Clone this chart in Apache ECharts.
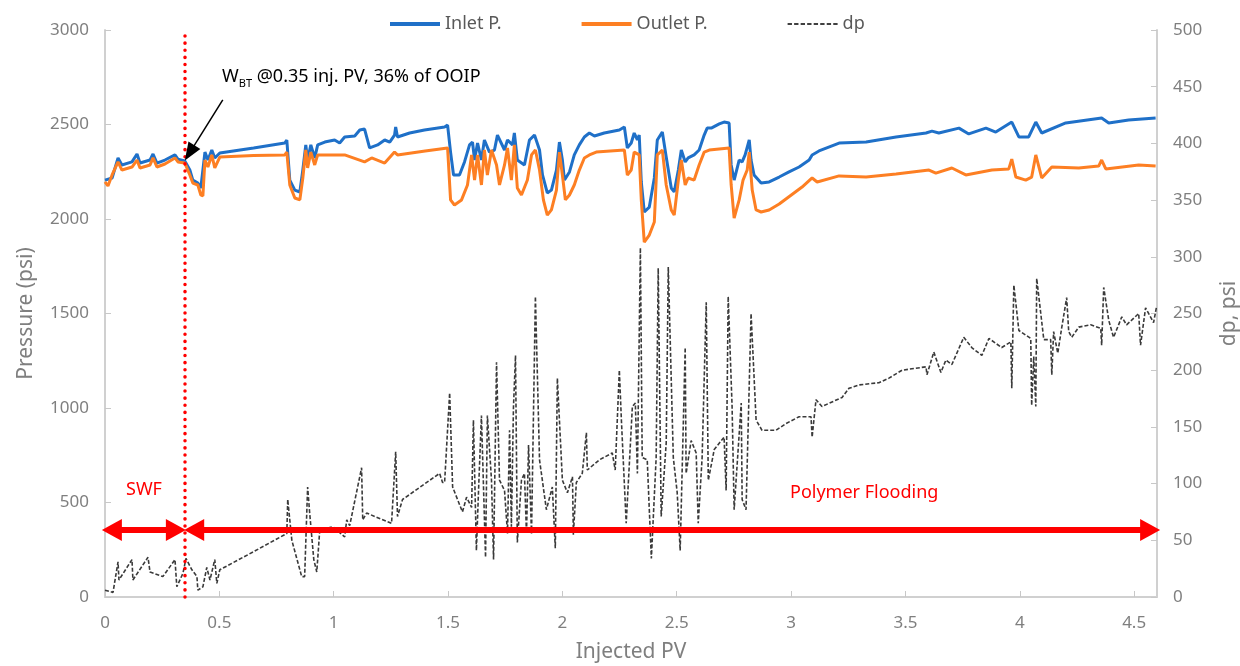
<!DOCTYPE html>
<html>
<head>
<meta charset="utf-8">
<title>Pressure vs Injected PV</title>
<script src="https://cdn.jsdelivr.net/npm/echarts@6/dist/echarts.min.js"></script>
<style>
  html, body { margin: 0; padding: 0; background: #fff; }
  #main { width: 1240px; height: 666px; }
</style>
</head>
<body>
<div id="main"></div>
<script type="text/javascript">
// values: [injected PV, psi]
var inletData = [
  [0,2206],[0.031,2217],[0.057,2323],[0.074,2286],[0.118,2302],[0.14,2344],[0.153,2296],[0.197,2312],
  [0.21,2344],[0.227,2296],[0.262,2312],[0.306,2339],[0.319,2317],[0.349,2307],[0.371,2259],[0.384,2206],
  [0.406,2190],[0.419,2164],[0.437,2354],[0.45,2312],[0.467,2365],[0.48,2323],[0.502,2349],[0.65,2376],
  [0.786,2402],[0.795,2418],[0.808,2206],[0.83,2153],[0.852,2143],[0.865,2259],[0.878,2392],[0.886,2312],
  [0.9,2392],[0.917,2323],[0.93,2392],[0.961,2407],[1.004,2418],[1.026,2402],[1.048,2434],[1.092,2439],
  [1.114,2471],[1.135,2476],[1.157,2376],[1.192,2392],[1.223,2418],[1.245,2407],[1.266,2444],[1.271,2487],
  [1.279,2434],[1.332,2455],[1.397,2471],[1.485,2487],[1.498,2497],[1.511,2354],[1.524,2233],[1.55,2233],
  [1.572,2302],[1.594,2392],[1.607,2407],[1.616,2312],[1.629,2402],[1.646,2312],[1.659,2418],[1.681,2354],
  [1.703,2365],[1.716,2444],[1.747,2365],[1.76,2418],[1.782,2392],[1.79,2455],[1.803,2312],[1.834,2286],
  [1.856,2418],[1.878,2444],[1.9,2365],[1.913,2233],[1.934,2138],[1.952,2153],[1.974,2259],[1.987,2407],
  [2.0,2312],[2.009,2206],[2.031,2249],[2.052,2339],[2.074,2392],[2.096,2434],[2.118,2455],[2.14,2439],
  [2.183,2455],[2.249,2471],[2.271,2487],[2.284,2376],[2.301,2402],[2.314,2455],[2.328,2418],[2.336,2444],
  [2.345,2196],[2.358,2037],[2.38,2063],[2.402,2217],[2.415,2418],[2.437,2460],[2.454,2328],[2.476,2164],
  [2.489,2143],[2.507,2259],[2.52,2365],[2.537,2302],[2.55,2323],[2.576,2339],[2.598,2365],[2.62,2444],
  [2.633,2481],[2.651,2481],[2.686,2503],[2.707,2513],[2.729,2508],[2.738,2286],[2.751,2206],[2.773,2312],
  [2.786,2302],[2.799,2339],[2.817,2418],[2.825,2312],[2.838,2233],[2.869,2190],[2.904,2196],[2.948,2222],
  [2.991,2249],[3.035,2275],[3.079,2312],[3.092,2339],[3.122,2360],[3.21,2402],[3.328,2407],[3.459,2434],
  [3.59,2455],[3.616,2465],[3.646,2455],[3.734,2481],[3.777,2450],[3.852,2481],[3.895,2460],[3.965,2513],
  [3.996,2434],[4.039,2434],[4.07,2513],[4.096,2455],[4.201,2508],[4.358,2534],[4.389,2508],[4.476,2524],
  [4.594,2534]
];

var outletData = [
  [0,2196],[0.013,2175],[0.031,2233],[0.057,2302],[0.074,2259],[0.118,2275],[0.14,2312],[0.153,2270],
  [0.197,2286],[0.21,2323],[0.227,2275],[0.262,2291],[0.306,2323],[0.319,2302],[0.349,2296],[0.371,2233],
  [0.384,2190],[0.406,2180],[0.419,2127],[0.428,2122],[0.437,2312],[0.45,2275],[0.467,2339],[0.48,2270],
  [0.502,2328],[0.65,2336],[0.786,2339],[0.795,2354],[0.808,2180],[0.83,2111],[0.852,2101],[0.865,2217],
  [0.878,2365],[0.886,2270],[0.9,2354],[0.917,2286],[0.93,2339],[0.961,2339],[1.048,2339],[1.135,2302],
  [1.166,2323],[1.223,2296],[1.266,2354],[1.279,2339],[1.4,2360],[1.498,2376],[1.511,2101],[1.528,2074],
  [1.559,2101],[1.585,2180],[1.603,2339],[1.616,2206],[1.629,2339],[1.646,2180],[1.659,2365],[1.672,2233],
  [1.69,2365],[1.712,2286],[1.725,2180],[1.747,2286],[1.76,2376],[1.777,2206],[1.79,2392],[1.803,2164],
  [1.821,2127],[1.847,2206],[1.865,2339],[1.882,2365],[1.9,2259],[1.917,2101],[1.934,2021],[1.952,2048],
  [1.974,2153],[1.987,2354],[2.0,2233],[2.013,2101],[2.031,2127],[2.052,2180],[2.074,2259],[2.096,2323],
  [2.118,2339],[2.148,2354],[2.271,2365],[2.284,2233],[2.301,2259],[2.314,2354],[2.336,2339],[2.345,2101],
  [2.358,1878],[2.38,1915],[2.402,1984],[2.415,2339],[2.437,2365],[2.454,2180],[2.476,2048],[2.489,2021],
  [2.507,2206],[2.52,2312],[2.537,2180],[2.55,2217],[2.576,2206],[2.598,2286],[2.62,2354],[2.642,2365],
  [2.729,2376],[2.738,2180],[2.751,2005],[2.773,2101],[2.79,2206],[2.808,2259],[2.817,2354],[2.83,2153],
  [2.847,2048],[2.869,2037],[2.904,2048],[2.948,2079],[3.048,2169],[3.092,2217],[3.114,2196],[3.21,2228],
  [3.328,2222],[3.459,2238],[3.603,2259],[3.633,2243],[3.703,2270],[3.764,2233],[3.878,2259],[3.952,2265],
  [3.965,2317],[3.983,2222],[4.026,2206],[4.052,2222],[4.07,2339],[4.096,2217],[4.14,2275],[4.258,2270],
  [4.345,2280],[4.358,2312],[4.376,2265],[4.52,2286],[4.594,2280]
];

var dpData = [
  [0,6],[0.035,4],[0.057,31],[0.061,15],[0.118,33],[0.122,15],[0.188,35],[0.197,22],[0.253,18],[0.306,33],
  [0.314,9],[0.341,21],[0.354,34],[0.38,24],[0.402,18],[0.406,6],[0.428,9],[0.445,26],[0.459,15],[0.48,33],
  [0.489,12],[0.502,24],[0.65,40],[0.795,56],[0.799,86],[0.817,50],[0.86,18],[0.873,18],[0.886,97],[0.895,74],
  [0.913,33],[0.926,22],[0.939,59],[0.996,62],[1.048,53],[1.057,68],[1.07,63],[1.122,114],[1.127,68],
  [1.144,74],[1.253,65],[1.271,128],[1.279,71],[1.301,86],[1.463,109],[1.476,101],[1.485,101],[1.507,180],
  [1.52,97],[1.563,75],[1.581,88],[1.603,79],[1.611,156],[1.624,41],[1.633,92],[1.646,160],[1.664,35],
  [1.672,160],[1.69,103],[1.699,33],[1.712,207],[1.725,103],[1.747,94],[1.76,56],[1.769,147],[1.777,62],
  [1.786,167],[1.795,213],[1.803,48],[1.821,103],[1.834,109],[1.843,56],[1.852,134],[1.865,56],[1.882,265],
  [1.9,121],[1.93,77],[1.956,97],[1.969,43],[1.978,193],[2.0,103],[2.022,92],[2.044,106],[2.048,55],
  [2.061,101],[2.087,109],[2.105,145],[2.109,112],[2.162,121],[2.218,127],[2.231,112],[2.249,200],[2.258,156],
  [2.279,65],[2.306,168],[2.319,171],[2.328,109],[2.341,308],[2.349,123],[2.371,121],[2.389,34],[2.41,123],
  [2.419,290],[2.432,71],[2.454,136],[2.463,291],[2.485,123],[2.502,92],[2.515,41],[2.537,220],[2.541,109],
  [2.563,138],[2.585,127],[2.594,65],[2.611,123],[2.629,260],[2.638,103],[2.664,130],[2.707,141],[2.716,94],
  [2.725,265],[2.742,168],[2.751,77],[2.782,171],[2.786,86],[2.803,77],[2.825,250],[2.847,156],[2.873,147],
  [2.934,147],[2.978,153],[3.035,159],[3.087,159],[3.092,141],[3.109,174],[3.135,168],[3.223,176],[3.253,184],
  [3.297,187],[3.384,189],[3.428,193],[3.485,200],[3.59,203],[3.594,196],[3.624,216],[3.655,198],[3.677,209],
  [3.703,205],[3.755,229],[3.79,220],[3.834,213],[3.865,228],[3.921,220],[3.961,225],[3.965,184],[3.974,275],
  [3.996,235],[4.048,228],[4.052,169],[4.061,212],[4.07,168],[4.074,281],[4.105,227],[4.135,227],[4.14,196],
  [4.148,234],[4.166,215],[4.183,237],[4.205,264],[4.214,234],[4.227,229],[4.258,238],[4.31,240],[4.354,237],
  [4.358,222],[4.367,273],[4.389,244],[4.41,229],[4.446,247],[4.467,240],[4.52,250],[4.528,222],[4.55,255],
  [4.585,242],[4.598,256]
];

// annotation positions (injected PV / psi)
var breakthroughPV = 0.35;
var swfRange = [0.03, 0.31];
var polymerRange = [0.39, 4.57];
var arrowLevel = 354;

var grey = '#7f7f7f';
var fontName = 'Noto Sans, sans-serif';

// legend icons: solid bar and dashed bar
var solidIcon = 'path://M0,0 L50,0 L50,4 L0,4 Z';
var dashedIcon = 'path://M0,0 L4,0 L4,2 L0,2 Z M6,0 L10,0 L10,2 L6,2 Z M12,0 L16,0 L16,2 L12,2 Z ' +
  'M18,0 L22,0 L22,2 L18,2 Z M24,0 L28,0 L28,2 L24,2 Z M30,0 L34,0 L34,2 L30,2 Z ' +
  'M36,0 L40,0 L40,2 L36,2 Z M42,0 L46,0 L46,2 L42,2 Z';

var myChart = echarts.init(document.getElementById('main'));

var option = {
  animation: false,
  backgroundColor: '#fff',
  textStyle: { fontFamily: fontName },
  legend: {
    top: 10,
    left: 385,
    itemWidth: 50,
    itemHeight: 4,
    itemGap: 80,
    textStyle: { fontSize: 18, color: '#595959', fontFamily: fontName },
    data: [
      { name: 'Inlet P.', icon: solidIcon },
      { name: 'Outlet P.', icon: solidIcon },
      { name: 'dp', icon: dashedIcon, itemStyle: { color: '#404040' } }
    ]
  },
  grid: { left: 105, right: 83, top: 30, bottom: 69, outerBoundsMode: 'none', containLabel: false },
  xAxis: {
    type: 'value',
    min: 0,
    max: 4.6,
    interval: 0.5,
    name: 'Injected PV',
    nameLocation: 'middle',
    nameGap: 45,
    nameTextStyle: { fontSize: 21, color: grey },
    splitLine: { show: false },
    axisLine: { lineStyle: { color: '#d0d0d0', width: 2 } },
    axisTick: { inside: true, length: 6, lineStyle: { color: '#c8c8c8' } },
    axisLabel: { fontSize: 17, color: grey, margin: 18, showMaxLabel: false }
  },
  yAxis: [
    {
      type: 'value',
      min: 0,
      max: 3000,
      interval: 500,
      name: 'Pressure (psi)',
      nameLocation: 'middle',
      nameGap: 68,
      nameTextStyle: { fontSize: 21, color: grey },
      splitLine: { show: false },
      axisLine: { show: true, lineStyle: { color: '#d0d0d0', width: 2 } },
      axisTick: { show: true, inside: true, length: 6, lineStyle: { color: '#c8c8c8' } },
      axisLabel: { fontSize: 17, color: grey, margin: 16, formatter: function (v) { return String(v); } }
    },
    {
      type: 'value',
      min: 0,
      max: 500,
      interval: 50,
      name: 'dp, psi',
      nameLocation: 'middle',
      nameGap: 62,
      nameTextStyle: { fontSize: 21, color: grey },
      splitLine: { show: false },
      axisLine: { show: true, lineStyle: { color: '#d0d0d0', width: 2 } },
      axisTick: { show: true, inside: true, length: 6, lineStyle: { color: '#c8c8c8' } },
      axisLabel: { fontSize: 17, color: grey, margin: 16 }
    }
  ],
  series: [
    {
      name: 'Inlet P.',
      type: 'line',
      yAxisIndex: 0,
      showSymbol: false,
      symbol: 'none',
      z: 2,
      lineStyle: { color: '#1f70c8', width: 3 },
      itemStyle: { color: '#1f70c8' },
      data: inletData,
      markLine: {
        silent: true,
        symbol: 'none',
        label: { show: false },
        lineStyle: { color: '#ff0000', type: [0.1, 7], width: 3.5, cap: 'round' },
        data: [{ xAxis: breakthroughPV }]
      }
    },
    {
      name: 'Outlet P.',
      type: 'line',
      yAxisIndex: 0,
      showSymbol: false,
      symbol: 'none',
      z: 3,
      lineStyle: { color: '#fd7f23', width: 3 },
      itemStyle: { color: '#fd7f23' },
      data: outletData,
      markLine: {
        silent: true,
        label: { show: false },
        data: [
          [
            { coord: [swfRange[0], arrowLevel], symbol: 'triangle', symbolSize: [22, 20] },
            { coord: [swfRange[1], arrowLevel], symbol: 'triangle', symbolSize: [22, 20] }
          ],
          [
            { coord: [polymerRange[0], arrowLevel], symbol: 'triangle', symbolSize: [22, 20] },
            { coord: [polymerRange[1], arrowLevel], symbol: 'triangle', symbolSize: [22, 20] }
          ],
          [
            { coord: [0.515, 2630], symbol: 'none' },
            { coord: [0.37, 2350], symbol: 'triangle', symbolSize: [14, 18],
              lineStyle: { color: '#000', width: 1.5, type: 'solid' },
              itemStyle: { color: '#000' } }
          ]
        ],
        lineStyle: { color: '#ff0000', width: 6, type: 'solid' },
        itemStyle: { color: '#ff0000' }
      }
    },
    {
      name: 'dp',
      type: 'line',
      yAxisIndex: 1,
      showSymbol: false,
      symbol: 'none',
      z: 4,
      lineStyle: { color: '#3a3a3a', width: 1.6, type: [4, 2] },
      itemStyle: { color: '#3a3a3a' },
      data: dpData
    }
  ],
  graphic: [
    {
      type: 'text',
      left: 222,
      top: 68,
      style: {
        text: '{a|W}{b|BT}{a| @0.35 inj. PV, 36% of OOIP}',
        rich: {
          a: { fontSize: 18, lineHeight: 24, fill: '#000', fontFamily: fontName, verticalAlign: 'middle' },
          b: { fontSize: 11, lineHeight: 12, fill: '#000', fontFamily: fontName, verticalAlign: 'bottom' }
        }
      }
    },
    {
      type: 'text',
      left: 126,
      top: 481,
      style: { text: 'SWF', fontSize: 18, fill: '#ff0000', fontFamily: fontName }
    },
    {
      type: 'text',
      left: 790,
      top: 484,
      style: { text: 'Polymer Flooding', fontSize: 18, fill: '#ff0000', fontFamily: fontName }
    }
  ]
};

myChart.setOption(option);
</script>
</body>
</html>
